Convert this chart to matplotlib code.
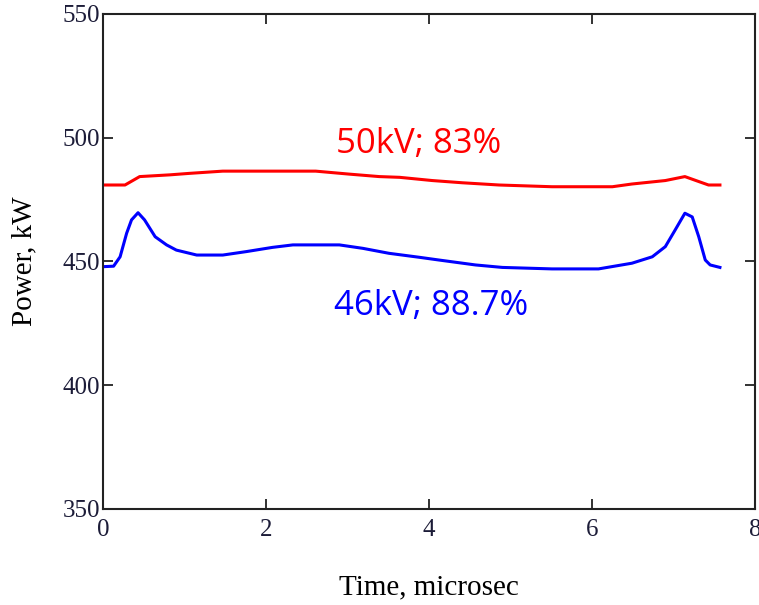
import matplotlib.pyplot as plt
import numpy as np

# data (time in microsec, power in kW)
t_red = [0.0, 0.27, 0.45, 0.82, 1.06, 1.47, 2.61, 3.02, 3.39, 3.64, 4.04,
         4.41, 4.86, 5.51, 6.25, 6.49, 6.90, 7.14, 7.31, 7.43, 7.57]
p_red = [480.9, 480.9, 484.3, 485.0, 485.6, 486.5, 486.5, 485.3, 484.3, 484.0, 482.7,
         481.8, 480.9, 480.2, 480.2, 481.3, 482.7, 484.3, 482.3, 480.9, 480.9]

t_blue = [0.0, 0.13, 0.21, 0.29, 0.35, 0.43, 0.51, 0.64, 0.78, 0.90, 1.15,
          1.47, 1.76, 2.08, 2.33, 2.90, 3.19, 3.51, 3.88, 4.12, 4.57, 4.90,
          5.51, 6.08, 6.49, 6.74, 6.90, 7.02, 7.14, 7.23, 7.31, 7.39, 7.45, 7.57]
p_blue = [447.9, 448.1, 451.9, 461.4, 466.8, 469.7, 466.8, 460.0, 456.7, 454.6, 452.6,
          452.6, 454.0, 455.7, 456.7, 456.7, 455.3, 453.3, 451.7, 450.6, 448.6, 447.6,
          447.0, 447.0, 449.3, 451.9, 456.0, 462.7, 469.5, 468.0, 460.0, 450.6, 448.6, 447.6]

lbl_red = '50kV; 83%'
lbl_blue = '46kV; 88.7%'

fig = plt.figure(figsize=(7.59, 6.05), dpi=100)
ax = fig.add_axes([0.1357, 0.1587, 0.859, 0.8182])

ax.plot(t_red, p_red, color='#ff0000', lw=2.2)
ax.plot(t_blue, p_blue, color='#0000ff', lw=2.2)

ax.text(2.86, 494, lbl_red, color='#ff0000', fontsize=25, family='Open Sans',
        ha='left', va='baseline')
ax.text(2.83, 428.4, lbl_blue, color='#0000ff', fontsize=25, family='Open Sans',
        ha='left', va='baseline')

ax.set_xlim(0, 8)
ax.set_ylim(350, 550)
ax.set_xticks([0, 2, 4, 6, 8])
ax.set_yticks([350, 400, 450, 500, 550])

for s in ax.spines.values():
    s.set_linewidth(1.5)
    s.set_color('#222222')

ax.tick_params(direction='in', length=7, width=1.3, color='#222222',
               top=True, right=True, labelsize=18, labelcolor='#1c1c38')
ax.tick_params(axis='x', pad=7)
ax.tick_params(axis='y', pad=2)
for lab in ax.get_xticklabels() + ax.get_yticklabels():
    lab.set_family('Liberation Serif')

ax.set_xlabel('Time, microsec', family='Liberation Serif', fontsize=21, labelpad=24)
ax.set_ylabel('Power, kW', family='Liberation Serif', fontsize=21, labelpad=18)

fig.savefig('out.png', dpi=100)
